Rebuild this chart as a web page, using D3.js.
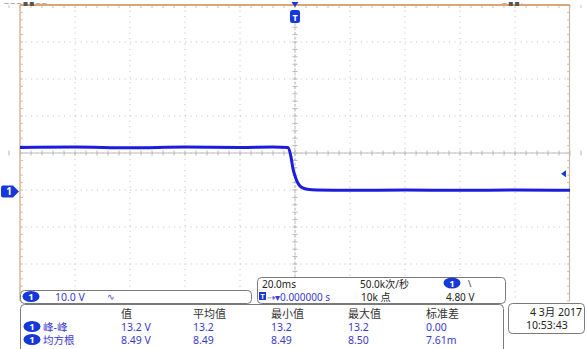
<!DOCTYPE html>
<html>
<head>
<meta charset="utf-8">
<script src="https://cdn.jsdelivr.net/npm/d3@7/dist/d3.min.js"></script>
<style>
  body { margin: 0; background: #fff; }
  svg { display: block; }
  text { font-family: "Noto Sans", "Noto Sans CJK SC", sans-serif; }
</style>
</head>
<body>
<script>
// waveform: time (ms) and channel 1 voltage (V)
const timeMs = [-100, -80, -60, -40, -20, -8, -2.5, -1.5, -0.7, 0.2, 0.9, 1.8, 3, 4.5, 8, 20, 40, 60, 80, 100];
const volts  = [11.9, 12.0, 11.8, 12.0, 11.9, 12.0, 11.9, 9.5, 6.0, 3.8, 2.5, 1.5, 0.9, 0.6, 0.4, 0.3, 0.4, 0.3, 0.4, 0.3];

const timePerDiv = 20;      // ms
const voltsPerDiv = 10;     // V
const centerVolts = 10.4;   // offset at screen centre
const triggerLevel = 4.8;   // V

// measurement table
const measHeaders = ["值", "平均值", "最小值", "最大值", "标准差"];
const measNames = ["峰-峰", "均方根"];
const measRows = [
  ["13.2 V", "13.2", "13.2", "13.2", "0.00"],
  ["8.49 V", "8.49", "8.49", "8.50", "7.61m"]
];

const width = 587, height = 349;
const plot = { left: 20, right: 570, top: 5, bottom: 301 };

const svg = d3.select("body").append("svg")
  .attr("width", width)
  .attr("height", height);

const x = d3.scaleLinear()
  .domain([-5 * timePerDiv, 5 * timePerDiv])
  .range([plot.left, plot.right]);

const y = d3.scaleLinear()
  .domain([centerVolts - 4 * voltsPerDiv, centerVolts + 4 * voltsPerDiv])
  .range([plot.bottom, plot.top]);

const blue = "#1c1cdc";
const badgeBlue = "#1638d8";
const textBlue = "#3a3ad0";

// dotted graticule
const xGrid = d3.range(-4, 5).map(d => d * timePerDiv);
const yGrid = d3.range(-3, 4).map(d => centerVolts + d * voltsPerDiv);

const grid = svg.append("g");
grid.selectAll(".vg").data(xGrid).join("line")
  .attr("x1", d => x(d)).attr("x2", d => x(d))
  .attr("y1", plot.top).attr("y2", plot.bottom)
  .attr("stroke", "#c4c4c4").attr("stroke-dasharray", "1.2,4.3");
grid.selectAll(".hg").data(yGrid).join("line")
  .attr("x1", plot.left).attr("x2", plot.right)
  .attr("y1", d => y(d)).attr("y2", d => y(d))
  .attr("stroke", "#c4c4c4").attr("stroke-dasharray", "1.2,4.3");

// centre axes with minor ticks
grid.append("line")
  .attr("x1", plot.left).attr("x2", plot.right)
  .attr("y1", y(centerVolts)).attr("y2", y(centerVolts))
  .attr("stroke", "#bcbcbc");
grid.append("line")
  .attr("x1", x(0)).attr("x2", x(0))
  .attr("y1", plot.top).attr("y2", plot.bottom)
  .attr("stroke", "#bcbcbc").attr("stroke-dasharray", "3,1.5");

const xMinor = d3.range(-50, 51).map(d => d * timePerDiv / 5);
const yMinor = d3.range(-20, 21).map(d => centerVolts + d * voltsPerDiv / 5);
grid.selectAll(".xm").data(xMinor).join("line")
  .attr("x1", d => x(d)).attr("x2", d => x(d))
  .attr("y1", y(centerVolts) - 2.5).attr("y2", y(centerVolts) + 2.5)
  .attr("stroke", "#b8b8b8");
grid.selectAll(".ym").data(yMinor).join("line")
  .attr("x1", x(0) - 2.5).attr("x2", x(0) + 2.5)
  .attr("y1", d => y(d)).attr("y2", d => y(d))
  .attr("stroke", "#b8b8b8");
// border ticks
grid.selectAll(".lm").data(yMinor).join("line")
  .attr("x1", plot.left).attr("x2", plot.left + 3)
  .attr("y1", d => y(d)).attr("y2", d => y(d))
  .attr("stroke", "#d0c0b0");
grid.selectAll(".rm").data(yMinor).join("line")
  .attr("x1", plot.right - 3).attr("x2", plot.right)
  .attr("y1", d => y(d)).attr("y2", d => y(d))
  .attr("stroke", "#d0c0b0");
grid.selectAll(".tm").data(xMinor).join("line")
  .attr("x1", d => x(d)).attr("x2", d => x(d))
  .attr("y1", plot.top).attr("y2", plot.top + 3)
  .attr("stroke", "#d0c0b0");

// frame
svg.append("line")
  .attr("x1", plot.left).attr("x2", plot.left)
  .attr("y1", plot.top).attr("y2", plot.bottom)
  .attr("stroke", "#d6b99a").attr("stroke-width", 1.5);
svg.append("line")
  .attr("x1", plot.right - 0.5).attr("x2", plot.right - 0.5)
  .attr("y1", plot.top).attr("y2", plot.bottom)
  .attr("stroke", "#cdb8a4").attr("stroke-width", 1.2);
svg.append("line")
  .attr("x1", plot.left).attr("x2", plot.right)
  .attr("y1", plot.top).attr("y2", plot.top)
  .attr("stroke", "#d9a674").attr("stroke-width", 2);

// tiny status text along the top edge
svg.append("text").attr("x", 4).attr("y", 4.5)
  .attr("font-size", 5).attr("fill", "#555").text("— — — ■ ■ — —");
svg.append("text").attr("x", 502).attr("y", 4.5)
  .attr("font-size", 5).attr("fill", "#555").text("— ■ ■ ·");

// waveform
const pts = timeMs.map((t, i) => [t, volts[i]]);
svg.append("path")
  .datum(pts)
  .attr("fill", "none")
  .attr("stroke", blue)
  .attr("stroke-width", 3)
  .attr("stroke-linejoin", "round")
  .attr("d", d3.line().x(d => x(d[0])).y(d => y(d[1])).curve(d3.curveMonotoneX));

// trigger position marker (top)
svg.append("path")
  .attr("d", `M${x(0) - 3.5},${plot.top - 3} L${x(0) + 3.5},${plot.top - 3} L${x(0)},${plot.top + 2} Z`)
  .attr("fill", badgeBlue);
svg.append("rect")
  .attr("x", x(0) - 5).attr("y", plot.top + 5).attr("width", 10).attr("height", 13).attr("rx", 2.5)
  .attr("fill", badgeBlue);
svg.append("text").attr("x", x(0)).attr("y", plot.top + 15.5)
  .attr("text-anchor", "middle").attr("font-size", 9).attr("font-weight", "bold")
  .attr("fill", "#fff").text("T");

// channel 1 ground marker (left)
const g0 = y(0);
svg.append("path")
  .attr("d", `M3,${g0 - 6} L13,${g0 - 6} L19,${g0} L13,${g0 + 6} L3,${g0 + 6} Q1,${g0 + 6} 1,${g0 + 4} L1,${g0 - 4} Q1,${g0 - 6} 3,${g0 - 6} Z`)
  .attr("fill", badgeBlue);
svg.append("text").attr("x", 9).attr("y", g0 + 4)
  .attr("text-anchor", "middle").attr("font-size", 10).attr("font-weight", "bold")
  .attr("fill", "#fff").text("1");

// trigger level marker (right)
const ty = y(triggerLevel);
svg.append("path")
  .attr("d", `M${plot.right - 9},${ty} L${plot.right - 4},${ty - 3.5} L${plot.right - 4},${ty + 3.5} Z`)
  .attr("fill", badgeBlue);

// helpers
function box(x0, y0, w, h) {
  svg.append("rect")
    .attr("x", x0 + 0.5).attr("y", y0 + 0.5).attr("width", w).attr("height", h).attr("rx", 4)
    .attr("fill", "#fff").attr("stroke", "#7a7a7a");
}
function badge(cx, cy) {
  svg.append("ellipse").attr("cx", cx).attr("cy", cy).attr("rx", 8.5).attr("ry", 5.5)
    .attr("fill", badgeBlue);
  svg.append("text").attr("x", cx).attr("y", cy + 3.5)
    .attr("text-anchor", "middle").attr("font-size", 9.5).attr("font-weight", "bold")
    .attr("fill", "#fff").text("1");
}
function label(tx, ty, s, color, size) {
  svg.append("text").attr("x", tx).attr("y", ty)
    .attr("font-size", size || 10).attr("fill", color || "#222").text(s);
}

// channel box
box(20, 290, 231, 13);
badge(31, 296.5);
label(55, 301, "10.0 V", textBlue, 10.5);
label(107, 300, "∿", textBlue, 9);

// timebase / trigger box
box(257, 277, 248, 26);
label(262, 288, "20.0ms", "#222", 10);
label(360, 288, "50.0k次/秒", "#222", 10);
badge(452, 283);
label(468, 287, "\\", "#333", 9);
svg.append("rect").attr("x", 259).attr("y", 292).attr("width", 7).attr("height", 8)
  .attr("fill", badgeBlue);
svg.append("text").attr("x", 262.5).attr("y", 299).attr("text-anchor", "middle")
  .attr("font-size", 7).attr("font-weight", "bold").attr("fill", "#fff").text("T");
label(267, 300.5, "⇢▾0.000000 s", textBlue, 10);
label(361, 300.5, "10k 点", "#222", 10);
label(446, 300.5, "4.80 V", "#222", 10);

// measurement box
box(20, 304, 483, 50);
const colX = [121, 193, 271, 348, 426];
measHeaders.forEach((h, i) => label(colX[i], 318, h, "#333", 11));
measNames.forEach((n, r) => {
  const by = 331 + r * 13;
  badge(32, by - 4.5);
  label(43, by, n, textBlue, 10.5);
  measRows[r].forEach((v, i) => label(colX[i], by, v, textBlue, 10.5));
});

// date box
box(508, 303, 76, 30);
label(530, 316, "4 3月 2017", "#222", 10.5);
label(526, 329, "10:53:43", "#222", 10.5);
</script>
</body>
</html>
